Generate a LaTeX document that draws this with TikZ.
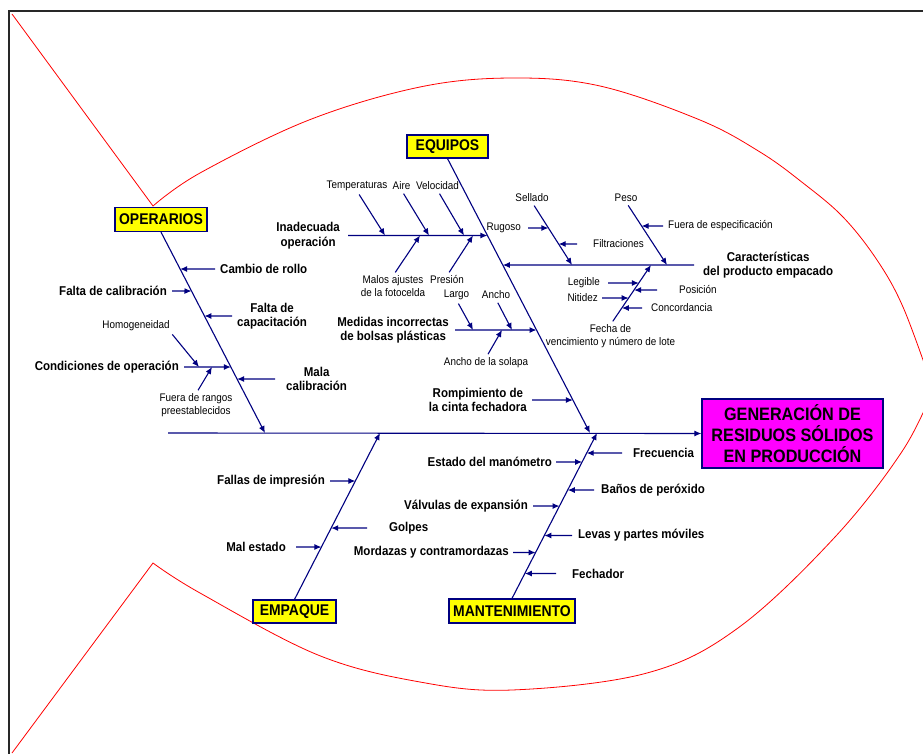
\documentclass[tikz,border=0pt]{standalone}
\usepackage{fontspec}
\setmainfont{Liberation Sans}[FakeStretch=0.9]
\usetikzlibrary{arrows.meta,calc}
\definecolor{bonenavy}{RGB}{0,0,128}
\definecolor{catyellow}{RGB}{255,255,0}
\definecolor{effectpink}{RGB}{255,0,255}
\definecolor{framegray}{RGB}{40,40,40}
\tikzset{
 catbox/.style={
 rectangle,
 draw=bonenavy,
 fill=catyellow,
 line width=1.2,
 minimum height=24,
 inner sep=0,
 font=\bfseries\fontsize{15.5}{16}\selectfont
 },
 effectbox/.style={
 rectangle,
 draw=bonenavy,
 fill=effectpink,
 line width=1.2,
 align=center,
 minimum width=181,
 minimum height=69,
 inner sep=0,
 font=\bfseries\fontsize{18}{21}\selectfont
 },
 cause/.style={align=center, inner sep=0, font=\bfseries\fontsize{12.8}{14.5}\selectfont},
 subcause/.style={align=center, inner sep=0, font=\fontsize{11}{13}\selectfont},
 bonearrow/.style={-{Latex[length=7pt,width=6pt]}, line width=1.1, draw=bonenavy},
 causearrow/.style={bonearrow, shorten <=5pt},
 subarrow/.style={bonearrow, shorten <=4pt},
 fishline/.style={draw=red, line width=0.8}
}

\begin{document}
\begin{tikzpicture}[x=1pt,y=-1pt]
	\useasboundingbox (0,0) rectangle (923,754);
	% fish outline and frame
	\begin{scope}
	\clip (0,0) rectangle (923,754);
	\draw[fishline] (12,14) -- plot[smooth, tension=0.6] coordinates {(153,206) (200,173) (309,120) (420,87) (512,78) (600,86) (700,120) (760,152) (803,183) (843,217) (877,260) (903,307) (930,380)};
	\draw[fishline] (12,753) -- plot[smooth, tension=0.6] coordinates {(153,563) (200,593) (318,655) (420,682) (512,690) (647,673) (738,628) (835,537) (903,450) (935,385)};
	\end{scope}
	\draw[framegray, line width=2] (9,754) -- (9,11) -- (923,11);

	% head and categories
	\node[effectbox] (effect) at (792.5,433.5) {GENERACIÓN DE\\RESIDUOS SÓLIDOS\\EN PRODUCCIÓN};
	\node[catbox, minimum width=92] (opbox) at (161,219.5) {OPERARIOS};
	\node[catbox, minimum width=81, minimum height=23] (eqbox) at (447.5,146.5) {EQUIPOS};
	\node[catbox, minimum width=83, minimum height=23] (empbox) at (294.5,611.5) {EMPAQUE};
	\node[catbox, minimum width=126] (manbox) at (512,611) {MANTENIMIENTO};

	\coordinate (spineStart) at (168,433);
	\coordinate (opTop) at (opbox.south);
	\coordinate (opTip) at (265,433);
	\coordinate (eqTop) at (eqbox.south);
	\coordinate (eqTip) at (590,433);
	\coordinate (empTop) at (empbox.north);
	\coordinate (empTip) at (380,433);
	\coordinate (manTop) at (manbox.north);
	\coordinate (manTip) at (597,433);

	\draw[bonearrow] (spineStart) -- (effect.west);
	\draw[bonearrow] (opTop) -- (opTip);
	\draw[bonearrow] (eqTop) -- (eqTip);
	\draw[bonearrow] (empTop) -- (empTip);
	\draw[bonearrow] (manTop) -- (manTip);

	% OPERARIOS
	\node[cause, anchor=west] (cambio) at (220,269) {Cambio de rollo};
	\node[cause, anchor=east] (falcal) at (167,291) {Falta de calibración};
	\node[cause, anchor=west] (falcap) at (237,316) {Falta de\\capacitación};
	\node[cause, anchor=east] (condic) at (179,367) {Condiciones de operación};
	\node[cause, anchor=west] (mala) at (286,379) {Mala\\calibración};
	\node[subcause] (homog) at (136,326) {Homogeneidad};
	\node[subcause] (fuerar) at (196,405.5) {Fuera de rangos\\preestablecidos};

	\draw[causearrow] (cambio.west) -- (intersection of opTop--opTip and cambio.west--cambio.east);
	\draw[causearrow] (falcal.east) -- (intersection of opTop--opTip and falcal.west--falcal.east);
	\draw[causearrow] (falcap.west) -- (intersection of opTop--opTip and falcap.west--falcap.east);
	\draw[causearrow] (condic.east) -- (intersection of opTop--opTip and condic.west--condic.east);
	\draw[causearrow, shorten <=11pt] (mala.west) -- (intersection of opTop--opTip and mala.west--mala.east);
	\draw[subarrow] (homog.south east) -- ($(condic.east)+(20,0)$);
	\draw[subarrow] (fuerar.north) -- ($(condic.east)+(33,0)$);

	% EQUIPOS
	\node[cause, anchor=east] (inad) at (340,235.5) {Inadecuada\\operación};
	\node[subcause] (temp) at (357,186) {Temperaturas};
	\node[subcause] (aire) at (401.5,186) {Aire};
	\node[subcause] (veloc) at (437.5,186) {Velocidad};
	\node[subcause] (malos) at (393,286.5) {Malos ajustes\\de la fotocelda};
	\node[subcause] (presion) at (447,280) {Presión};

	\draw[causearrow, shorten <=8pt] (inad.east) -- (intersection of eqTop--eqTip and inad.west--inad.east);
	\draw[subarrow] (temp.south) -- ($(inad.east)+(45,0)$);
	\draw[subarrow] (aire.south) -- ($(inad.east)+(89,0)$);
	\draw[subarrow] (veloc.south) -- ($(inad.east)+(124,0)$);
	\draw[subarrow] (malos.north) -- ($(inad.east)+(80,0)$);
	\draw[subarrow] (presion.north) -- ($(inad.east)+(133,0)$);

	\node[cause, anchor=east] (medidas) at (449,330) {Medidas incorrectas\\de bolsas plásticas};
	\node[subcause] (largo) at (456.5,295) {Largo};
	\node[subcause] (ancho) at (496,295) {Ancho};
	\node[subcause] (solapa) at (486,363) {Ancho de la solapa};

	\draw[causearrow, shorten <=6pt] (medidas.east) -- (intersection of eqTop--eqTip and medidas.west--medidas.east);
	\draw[subarrow] (largo.south) -- ($(medidas.east)+(24,0)$);
	\draw[subarrow] (ancho.south) -- ($(medidas.east)+(63,0)$);
	\draw[subarrow] (solapa.north) -- ($(medidas.east)+(53,0)$);

	\node[cause, anchor=east] (rompim) at (527,400) {Rompimiento de\\la cinta fechadora};
	\draw[causearrow] (rompim.east) -- (intersection of eqTop--eqTip and rompim.west--rompim.east);

	\node[cause, anchor=west] (caract) at (703,265) {Características\\del producto empacado};
	\draw[causearrow, shorten <=9pt] (caract.west) -- (intersection of eqTop--eqTip and caract.west--caract.east);

	\node[subcause] (sellado) at (532,198) {Sellado};
	\node[subcause] (peso) at (626,198) {Peso};
	\node[subcause] (fecha) at (610.5,336.5) {Fecha de\\vencimiento y número de lote};
	\coordinate (selTop) at (sellado.south);
	\coordinate (selTip) at ($(caract.west)+(-131,0)$);
	\coordinate (pesoTop) at (peso.south);
	\coordinate (pesoTip) at ($(caract.west)+(-36,0)$);
	\coordinate (fechaTop) at (fecha.north);
	\coordinate (fechaTip) at ($(caract.west)+(-52,0)$);
	\draw[subarrow] (selTop) -- (selTip);
	\draw[subarrow] (pesoTop) -- (pesoTip);
	\draw[subarrow] (fechaTop) -- (fechaTip);

	\node[subcause, anchor=east] (rugoso) at (521,228) {Rugoso};
	\node[subcause, anchor=west] (filtr) at (593,244) {Filtraciones};
	\node[subcause, anchor=west] (fueraesp) at (668,226) {Fuera de especificación};
	\node[subcause, anchor=east] (legible) at (600,283) {Legible};
	\node[subcause, anchor=east] (nitidez) at (598,298) {Nitidez};
	\node[subcause, anchor=west] (posicion) at (679,290) {Posición};
	\node[subcause, anchor=west] (concord) at (651,308) {Concordancia};

	\draw[subarrow, shorten <=7pt] (rugoso.east) -- (intersection of selTop--selTip and rugoso.west--rugoso.east);
	\draw[subarrow, shorten <=16pt] (filtr.west) -- (intersection of selTop--selTip and filtr.west--filtr.east);
	\draw[subarrow, shorten <=5pt] (fueraesp.west) -- (intersection of pesoTop--pesoTip and fueraesp.west--fueraesp.east);
	\draw[subarrow, shorten <=8pt] (legible.east) -- (intersection of fechaTop--fechaTip and legible.west--legible.east);
	\draw[subarrow] (nitidez.east) -- (intersection of fechaTop--fechaTip and nitidez.west--nitidez.east);
	\draw[subarrow, shorten <=22pt] (posicion.west) -- (intersection of fechaTop--fechaTip and posicion.west--posicion.east);
	\draw[subarrow, shorten <=9pt] (concord.west) -- (intersection of fechaTop--fechaTip and concord.west--concord.east);

	% EMPAQUE
	\node[cause, anchor=east] (fallas) at (325,481) {Fallas de impresión};
	\node[cause, anchor=west] (golpes) at (389,528) {Golpes};
	\node[cause, anchor=east] (malest) at (286,547) {Mal estado};

	\draw[causearrow] (fallas.east) -- (intersection of empTop--empTip and fallas.west--fallas.east);
	\draw[causearrow, shorten <=22pt] (golpes.west) -- (intersection of empTop--empTip and golpes.west--golpes.east);
	\draw[causearrow, shorten <=10pt] (malest.east) -- (intersection of empTop--empTip and malest.west--malest.east);

	% MANTENIMIENTO
	\node[cause, anchor=west] (frecuencia) at (633,453) {Frecuencia};
	\node[cause, anchor=east] (estado) at (552,462) {Estado del manómetro};
	\node[cause, anchor=west] (banos) at (601,490) {Baños de peróxido};
	\node[cause, anchor=east] (valvulas) at (528,506) {Válvulas de expansión};
	\node[cause, anchor=west] (levas) at (578,535.5) {Levas y partes móviles};
	\node[cause, anchor=east] (mordazas) at (509,552.5) {Mordazas y contramordazas};
	\node[cause, anchor=west] (fechador) at (572,573.5) {Fechador};

	\draw[causearrow, shorten <=11pt] (frecuencia.west) -- (intersection of manTop--manTip and frecuencia.west--frecuencia.east);
	\draw[causearrow, shorten <=4pt] (estado.east) -- (intersection of manTop--manTip and estado.west--estado.east);
	\draw[causearrow, shorten <=7pt] (banos.west) -- (intersection of manTop--manTip and banos.west--banos.east);
	\draw[causearrow] (valvulas.east) -- (intersection of manTop--manTip and valvulas.west--valvulas.east);
	\draw[causearrow, shorten <=6pt] (levas.west) -- (intersection of manTop--manTip and levas.west--levas.east);
	\draw[causearrow, shorten <=4pt] (mordazas.east) -- (intersection of manTop--manTip and mordazas.west--mordazas.east);
	\draw[causearrow, shorten <=16pt] (fechador.west) -- (intersection of manTop--manTip and fechador.west--fechador.east);
\end{tikzpicture}
\end{document}
